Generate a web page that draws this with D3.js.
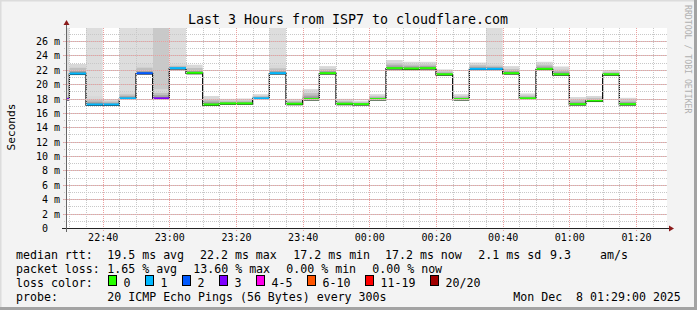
<!DOCTYPE html>
<html>
<head>
<meta charset="utf-8">
<script src="https://cdn.jsdelivr.net/npm/d3@7"></script>
<style>
  html, body { margin: 0; padding: 0; background: #f3f3f3; }
  svg text { font-family: "DejaVu Sans Mono", monospace; white-space: pre; }
</style>
</head>
<body>
<script>
// 5 minute steps starting 22:25 (graph starts at 22:29)
var firstStep = new Date(2025, 11, 7, 22, 25);
var medianMs = [17.85, 21.4, 17.1, 17.1, 17.95, 21.45, 17.95, 22.15, 21.5, 17.1,
  17.25, 17.25, 17.95, 21.45, 17.2, 17.85, 21.45, 17.2, 17.15, 17.85,
  22.15, 22.1, 22.15, 21.3, 17.85, 22.05, 22.05, 21.45, 17.95, 22.05,
  21.3, 17.15, 17.65, 21.3, 17.15];
var lossCount = [3, 1, 1, 1, 1, 2, 3, 1, 0, 0,
  0, 0, 1, 1, 0, 0, 0, 0, 0, 0,
  0, 0, 0, 0, 0, 1, 1, 0, 0, 0,
  0, 0, 0, 0, 0];
var smokeTopMs = [18.4, 22.8, 18.3, 17.9, 18.95, 22.8, 19.3, 22.8, 22.7, 18.35,
  17.95, 18.0, 18.6, 22.65, 17.95, 19.3, 22.5, 17.95, 17.7, 18.6,
  23.35, 23.1, 23.1, 22.05, 18.6, 23.0, 22.9, 22.5, 18.7, 23.1,
  22.45, 18.2, 18.35, 21.95, 18.1];
// 0 = none, 1 = light full column, 2 = darker full column
var fullColumn = [1, 0, 1, 0, 1, 1, 2, 1, 0, 0,
  0, 0, 0, 1, 0, 0, 0, 0, 0, 0,
  0, 0, 0, 0, 0, 0, 1, 0, 0, 0,
  0, 0, 0, 0, 0];

var lossLabels = ['0', '1', '2', '3', '4-5', '6-10', '11-19', '20/20'];
var lossColors = ['#26ff00', '#00b8ff', '#0059ff', '#7e00ff', '#ff00ea', '#ff5500', '#ff0000', '#a10000'];

var titleText = 'Last 3 Hours from ISP7 to cloudflare.com';
var rttStats = ['median rtt:', '19.5 ms avg', '22.2 ms max', '17.2 ms min', '17.2 ms now', '2.1 ms sd', '9.3', 'am/s'];
var lossStats = ['packet loss:', '1.65 % avg', '13.60 % max', '0.00 % min', '0.00 % now'];
var probeText = ['probe:', '20 ICMP Echo Pings (56 Bytes) every 300s', 'Mon Dec  8 01:29:00 2025'];

var W = 697, H = 310;
var svg = d3.select('body').append('svg').attr('width', W).attr('height', H);

// frame
svg.append('rect').attr('width', W).attr('height', H).attr('fill', '#f3f3f3');
svg.append('path').attr('d', 'M0,' + H + 'V0H' + W).attr('fill', 'none').attr('stroke', '#dcdcdc').attr('stroke-width', 3);
svg.append('path').attr('d', 'M0,' + (H - 1.5) + 'H' + (W - 1.5) + 'V0').attr('fill', 'none').attr('stroke', '#a3a3a3').attr('stroke-width', 3);

var pL = 66, pR = 666, pT = 28, pB = 228;
var x = d3.scaleTime()
  .domain([new Date(2025, 11, 7, 22, 29), new Date(2025, 11, 8, 1, 29)])
  .range([pL, pR]);
var y = d3.scaleLinear().domain([0, 27.8]).range([pB, pT]);

svg.append('rect').attr('x', pL).attr('y', pT).attr('width', pR - pL + 1).attr('height', pB - pT)
  .attr('fill', '#ffffff');

svg.append('clipPath').attr('id', 'plot').append('rect')
  .attr('x', pL).attr('y', pT).attr('width', pR - pL + 1).attr('height', pB - pT);

var g = svg.append('g').attr('clip-path', 'url(#plot)');

var steps = medianMs.map(function (m, i) {
  var t0 = d3.timeMinute.offset(firstStep, i * 5);
  return {t0: t0, t1: d3.timeMinute.offset(t0, 5), median: m, loss: lossCount[i], top: smokeTopMs[i], full: fullColumn[i]};
});

function lossIndex(n) {
  if (n <= 3) return n;
  if (n <= 5) return 4;
  if (n <= 10) return 5;
  if (n <= 19) return 6;
  return 7;
}

// full-height smoke columns
g.selectAll('.full').data(steps.filter(function (d) { return d.full > 0; }))
  .enter().append('rect')
  .attr('x', function (d) { return x(d.t0); })
  .attr('width', function (d) { return x(d.t1) - x(d.t0); })
  .attr('y', pT)
  .attr('height', function (d) { return y(d.median) - pT; })
  .attr('fill', function (d) { return d.full == 2 ? '#c9c9c9' : '#dddddd'; });

// smoke layers
var layers = [{f: 1, c: '#d8d8d8'}, {f: 0.62, c: '#c0c0c0'}, {f: 0.38, c: '#a4a4a4'}, {f: 0.18, c: '#838383'}];
layers.forEach(function (l) {
  g.selectAll(null).data(steps).enter().append('rect')
    .attr('x', function (d) { return x(d.t0); })
    .attr('width', function (d) { return x(d.t1) - x(d.t0); })
    .attr('y', function (d) { return y(d.median + (d.top - d.median) * l.f); })
    .attr('height', function (d) { return y(d.median) - y(d.median + (d.top - d.median) * l.f) + 1; })
    .attr('fill', l.c);
});

// grid
var minorX = x.ticks(d3.timeMinute.every(5));
var majorX = x.ticks(d3.timeMinute.every(20));
var minorY = d3.range(1, 28, 1);
var majorY = d3.range(2, 28, 2);
var grid = svg.append('g');
grid.selectAll(null).data(minorX).enter().append('line')
  .attr('x1', function (d) { return Math.round(x(d)) + 0.5; }).attr('x2', function (d) { return Math.round(x(d)) + 0.5; })
  .attr('y1', pT).attr('y2', pB + 2)
  .attr('stroke', '#c8c8c8').attr('stroke-dasharray', '1,1');
grid.selectAll(null).data(minorY).enter().append('line')
  .attr('x1', pL - 2).attr('x2', pR + 1)
  .attr('y1', function (d) { return Math.round(y(d)) + 0.5; }).attr('y2', function (d) { return Math.round(y(d)) + 0.5; })
  .attr('stroke', '#c8c8c8').attr('stroke-dasharray', '1,1');
grid.selectAll(null).data(majorX).enter().append('line')
  .attr('x1', function (d) { return Math.round(x(d)) + 0.5; }).attr('x2', function (d) { return Math.round(x(d)) + 0.5; })
  .attr('y1', pT).attr('y2', pB + 3)
  .attr('stroke', '#eba0a0').attr('stroke-dasharray', '1,1');
grid.selectAll(null).data(majorY).enter().append('line')
  .attr('x1', pL - 3).attr('x2', pR + 1)
  .attr('y1', function (d) { return Math.round(y(d)) + 0.5; }).attr('y2', function (d) { return Math.round(y(d)) + 0.5; })
  .attr('stroke', '#eba0a0').attr('stroke-dasharray', '1,1');

// median step line
var line = d3.line()
  .x(function (d) { return x(d[0]); })
  .y(function (d) { return y(d[1]); })
  .curve(d3.curveStepAfter);
var pts = steps.map(function (d) { return [d.t0, d.median]; });
pts.push([steps[steps.length - 1].t1, steps[steps.length - 1].median]);
g.append('path').attr('d', line(pts)).attr('fill', 'none').attr('stroke', '#111').attr('stroke-width', 1.3);

// loss coloured median
g.selectAll('.med').data(steps).enter().append('line')
  .attr('x1', function (d) { return x(d.t0); })
  .attr('x2', function (d) { return x(d.t1); })
  .attr('y1', function (d) { return y(d.median) - 0.5; })
  .attr('y2', function (d) { return y(d.median) - 0.5; })
  .attr('stroke', function (d) { return lossColors[lossIndex(d.loss)]; })
  .attr('stroke-width', 2);

// axes
var xAxis = svg.append('g').attr('transform', 'translate(0,' + pB + ')')
  .call(d3.axisBottom(x).ticks(d3.timeMinute.every(20)).tickFormat(d3.timeFormat('%H:%M')).tickSize(0).tickPadding(6));
xAxis.select('.domain').remove();
xAxis.selectAll('text').attr('font-size', 10).attr('fill', '#000').attr('font-family', 'DejaVu Sans Mono');

var yAxis = svg.append('g').attr('transform', 'translate(' + (pL - 6) + ',0)')
  .call(d3.axisLeft(y).tickValues(d3.range(0, 28, 2)).tickFormat(function (d) { return d == 0 ? '0  ' : d + ' m'; }).tickSize(0).tickPadding(0));
yAxis.select('.domain').remove();
yAxis.selectAll('text').attr('font-size', 10).attr('fill', '#000').attr('font-family', 'DejaVu Sans Mono').attr('dy', '0.35em');

svg.append('line').attr('x1', pL - 4).attr('x2', pR + 5).attr('y1', pB + 0.5).attr('y2', pB + 0.5).attr('stroke', '#222');
svg.append('line').attr('x1', pL + 0.5).attr('x2', pL + 0.5).attr('y1', pB + 4).attr('y2', pT - 5).attr('stroke', '#666');
svg.append('path').attr('d', 'M' + (pL - 2.5) + ',' + (pT - 3) + 'L' + (pL + 0.5) + ',' + (pT - 8) + 'L' + (pL + 3.5) + ',' + (pT - 3) + 'Z').attr('fill', '#8b1a1a');
svg.append('path').attr('d', 'M' + (pR + 3) + ',' + (pB - 2.5) + 'L' + (pR + 8) + ',' + (pB + 0.5) + 'L' + (pR + 3) + ',' + (pB + 3.5) + 'Z').attr('fill', '#8b1a1a');

// title and side labels
svg.append('text').attr('x', 348).attr('y', 24).attr('text-anchor', 'middle').attr('font-size', 13.3).text(titleText);
svg.append('text').attr('transform', 'translate(14.5,127) rotate(-90)').attr('text-anchor', 'middle').attr('font-size', 11.2).text('Seconds');
svg.append('text').attr('transform', 'translate(685,5) rotate(90)').attr('font-size', 8.2).attr('fill', '#b0b0b0').text('RRDTOOL / TOBI OETIKER');

// legend
var fs = 11.6;
var rttX = [16, 107.3, 200, 293.3, 385, 478.3, 550, 600];
rttStats.forEach(function (s, i) {
  svg.append('text').attr('x', rttX[i]).attr('y', 258.5).attr('font-size', fs).text(s);
});
var lossX = [16, 107.3, 193.3, 286.3, 372.3];
lossStats.forEach(function (s, i) {
  svg.append('text').attr('x', lossX[i]).attr('y', 272.5).attr('font-size', fs).text(s);
});
svg.append('text').attr('x', 16).attr('y', 286.5).attr('font-size', fs).text('loss color:');
var boxX = [108.5, 145.5, 182.5, 219.5, 256.5, 307.5, 365.5, 430.5];
lossLabels.forEach(function (s, i) {
  svg.append('rect').attr('x', boxX[i]).attr('y', 275.5).attr('width', 8).attr('height', 10)
    .attr('fill', lossColors[i]).attr('stroke', '#000');
  svg.append('text').attr('x', boxX[i] + 15).attr('y', 286.5).attr('font-size', fs).text(s);
});
svg.append('text').attr('x', 16).attr('y', 300.5).attr('font-size', fs).text(probeText[0]);
svg.append('text').attr('x', 107.3).attr('y', 300.5).attr('font-size', fs).text(probeText[1]);
svg.append('text').attr('x', 513.3).attr('y', 300.5).attr('font-size', fs).text(probeText[2]);
</script>
</body>
</html>
